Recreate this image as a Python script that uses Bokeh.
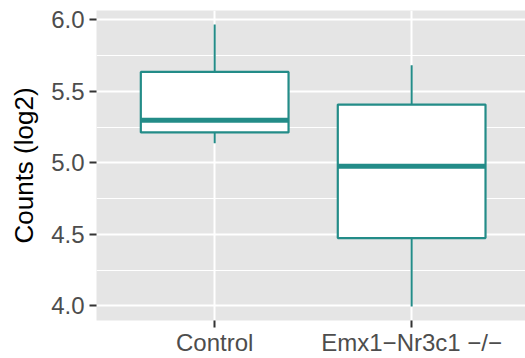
from bokeh.plotting import figure
from bokeh.models import Range1d, FixedTicker, ColumnDataSource
from bokeh.embed import file_html
from bokeh.resources import INLINE

# ---- data ----
categories = ["Control", "Emx1\u2212Nr3c1 \u2212/\u2212"]
whisker_low = [5.136, 3.996]
q1 = [5.212, 4.474]
median = [5.297, 4.976]
q3 = [5.635, 5.407]
whisker_high = [5.966, 5.682]
y_ticks = [4.0, 4.5, 5.0, 5.5, 6.0]
y_minor = [4.25, 4.75, 5.25, 5.75]
y_tick_labels = ["4.0", "4.5", "5.0", "5.5", "6.0"]

teal = "#238C88"
FONT = "Liberation Sans"

xpos = [i + 1 for i in range(len(categories))]
half = 0.375
src = ColumnDataSource(dict(
    x=xpos, x0=[x - half for x in xpos], x1=[x + half for x in xpos],
    lo=whisker_low, q1=q1, med=median, q3=q3, hi=whisker_high,
))

lo_all, hi_all = min(whisker_low), max(whisker_high)
pad = 0.05 * (hi_all - lo_all)

p = figure(width=525, height=358, output_backend="svg", toolbar_location=None,
           x_range=Range1d(0.4, 2.578), y_range=Range1d(lo_all - pad, hi_all + pad),
           min_border_left=96, min_border_right=0, min_border_top=10, min_border_bottom=38)

p.background_fill_color = "#E5E5E5"
p.border_fill_color = "white"
p.outline_line_color = None

# whiskers
p.segment(x0="x", x1="x", y0="q3", y1="hi", source=src, line_color=teal, line_width=2)
p.segment(x0="x", x1="x", y0="lo", y1="q1", source=src, line_color=teal, line_width=2)
# boxes
p.vbar(x="x", width=0.75, top="q3", bottom="q1", source=src,
       fill_color="white", line_color=teal, line_width=2.2)
# medians
p.segment(x0="x0", x1="x1", y0="med", y1="med", source=src, line_color=teal, line_width=5)

# grids
p.xgrid.grid_line_color = "white"
p.xgrid.grid_line_width = 2
p.ygrid.grid_line_color = "white"
p.ygrid.grid_line_width = 2
p.ygrid.minor_grid_line_color = "white"
p.ygrid.minor_grid_line_width = 1

# axes
p.xaxis.ticker = FixedTicker(ticks=xpos)
p.xaxis.major_label_overrides = {x: c for x, c in zip(xpos, categories)}
p.yaxis.ticker = FixedTicker(ticks=y_ticks, minor_ticks=y_minor)
p.yaxis.major_label_overrides = {t: l for t, l in zip(y_ticks, y_tick_labels)}

for ax in (p.xaxis, p.yaxis):
    ax.axis_line_color = None
    ax.major_tick_line_color = "#333333"
    ax.major_tick_line_width = 2
    ax.major_tick_out = 7
    ax.major_tick_in = 0
    ax.minor_tick_line_color = None
    ax.major_label_text_font = FONT
    ax.major_label_text_font_size = "24px"
    ax.major_label_text_color = "#4D4D4D"
p.xaxis.major_label_standoff = 1
p.yaxis.major_label_standoff = 5

p.yaxis.axis_label = "Counts (log2)"
p.yaxis.axis_label_text_font = FONT
p.yaxis.axis_label_text_font_size = "26px"
p.yaxis.axis_label_text_font_style = "normal"
p.yaxis.axis_label_text_color = "black"
p.yaxis.axis_label_standoff = 9

open("out.html", "w").write(file_html(p, INLINE))
